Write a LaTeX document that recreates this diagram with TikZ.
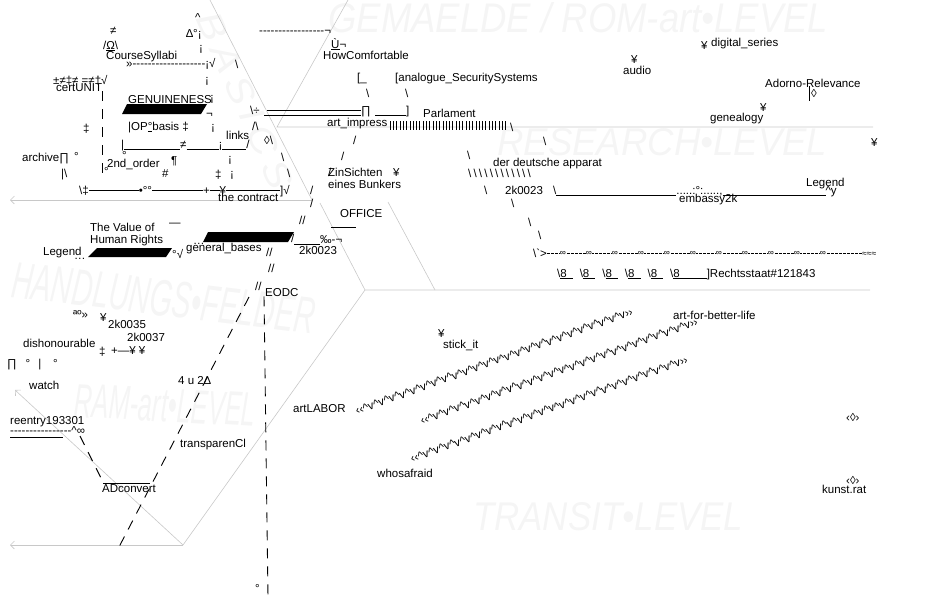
\documentclass[tikz,border=0pt]{standalone}
\usepackage{fontspec}
\newfontfamily\asc{Liberation Sans}
\usetikzlibrary{arrows.meta}
\definecolor{rim}{HTML}{C8C8C8}
\definecolor{faint}{HTML}{F5F5F5}
\newcommand\bsl{\textbackslash}
\newcommand\us[1]{\rule[-1.8pt]{#1}{0.7pt}}
\newcommand\ms[1]{\rule[3pt]{#1}{0.7pt}}
\newcommand\hv{\textasciicircum v}
\newcommand\ei{\bsl\underline{8\hspace{6pt}}\hspace{7pt}}
\begin{document}
\begin{tikzpicture}[x=1pt,y=-1pt,
  txt/.style={font=\asc\fontsize{11.5}{12}\selectfont,inner sep=0pt,anchor=base west},
  small/.style={txt,font=\asc\fontsize{8.5}{9}\selectfont},
  level/.style={font=\asc\itshape,text=faint,inner sep=0pt,anchor=base west},
  rimline/.style={draw=rim,line width=0.6pt},
  rimarrow/.style={rimline,-{Straight Barb[length=4pt,width=8pt]}},
  dashrun/.style={line width=0.9pt,dash pattern=on 10pt off 8pt},
  bar/.style={fill=black}
]
\useasboundingbox (0,0) rectangle (950,600);

% level marks
\node[level] (gem) at (328,32) {\resizebox{500pt}{30pt}{GEMAELDE / ROM-art•LEVEL}};
\node[level] (research) at (497,155) {\resizebox{330pt}{27pt}{RESEARCH•LEVEL}};
\node[level,rotate=-7] (handlung) at (10,297) {\resizebox{305pt}{36pt}{HANDLUNGS•FELDER}};
\node[level,rotate=-3] (ram) at (73,417) {\resizebox{182pt}{33pt}{RAM-art•LEVEL}};
\node[level] (transit) at (473,530) {\resizebox{270pt}{28pt}{TRANSIT•LEVEL}};
\node[level,rotate=-66] (basics) at (195,18) {\resizebox{190pt}{25pt}{B\,A\,S\,I\,C\,S}};

% frame
\coordinate (b0) at (210,0);
\coordinate (b1) at (312,200);
\coordinate (bl) at (10,200);
\coordinate (g0) at (348,0);
\coordinate (g1) at (277,127);
\coordinate (g2) at (873,127);
\coordinate (o0) at (320,203);
\coordinate (o1) at (388,202);
\coordinate (h0) at (365,290);
\coordinate (h1) at (435,290);
\coordinate (h2) at (870,290);
\coordinate (v0) at (183,545);
\coordinate (vl) at (10,545);
\coordinate (vu) at (15,390);
\draw[rimline] (b0) -- (b1);
\draw[rimarrow] (b1) -- (bl);
\draw[rimline] (g0) -- (g1) -- (g2);
\draw[rimline] (o0) -- (h0) -- (h2);
\draw[rimline] (o1) -- (h1);
\draw[rimline] (h0) -- (v0);
\draw[rimarrow] (v0) -- (vl);
\draw[rimarrow] (v0) -- (vu);

% basis block
\node[txt] (ne) at (110,34) {≠};
\node[txt] (caret) at (195,21) {\textasciicircum};
\node[txt] (delta) at (186,37) {∆°¡};
\node[txt] (omega) at (103,49) {/\underline{Ω}\bsl};
\node[txt] (syllabi) at (106,59) {CourseSyllabi};
\node[txt] (sylrun) at (126,67) {»-------------------¡√};
\node[txt] (bs1) at (235,68) {\bsl};
\node[txt] (cert) at (53,84) {±≠‡≠ =≠†√};
\node[txt] (certunit) at (56,91) {certUNIT};
\coordinate (cu1) at (100,178);
\draw[dashrun] (certunit.south east) -- (certunit.south east |- cu1);
\node[txt] (genuine) at (128,103) {GENUINENESS};
\fill[bar] (127,104) -- (207,104) -- (201,114) -- (122,114) -- cycle;
\node[txt] (neg) at (206,117) {¬};
\node[txt] (ddag1) at (83,132) {‡};
\node[txt] (opbasis) at (128,130) {|OP\underline{°}basis ‡};
\node[txt] (peak) at (252,130) {/\bsl};
\node[txt] (links) at (226,139) {links};
\node[txt] (floor) at (121,148) {|\us{56pt}≠\us{32pt}¡\us{24pt}/};
\node[txt] (lozl) at (264,144) {◊\bsl};
\node[txt] (bs2) at (281,161) {\bsl};
\node[txt] (bs3) at (287,177) {\bsl};
\node[txt] (archive) at (22,161) {archive∏};
\node[txt] (deg1) at (74,160) {°};
\node[txt] (deg2) at (122,159) {°};
\node[txt] (order) at (107,167) {2nd\_order};
\node[txt] (pilcrow) at (171,164) {¶};
\node[txt] (vbs) at (61,177) {|\bsl};
\node[txt] (deg3) at (104,175) {°};
\node[txt] (hash) at (162,177) {\#};
\node[txt] (ddag2) at (215,178) {‡};
\node[txt] (contract) at (79,194) {\bsl‡\ms{50pt}•°°\ms{51pt}+\ms{10pt}¥\ms{54pt}]√};
\node[txt] (thecontract) at (218,201) {the contract};
\foreach \x/\y [count=\i] in {199/51,205/83,210/101,211/130,228/162,230/177}
  \node[txt] (inv-\i) at (\x,\y) {¡};

% impress / parlament
\node[txt] (toprun) at (259,34) {-----------------¬};
\node[txt] (ugrave) at (331,48) {\underline{Ù}¬};
\node[txt] (comfort) at (323,59) {HowComfortable};
\node[txt] (brk) at (357,81) {[\_};
\node[txt] (analogue) at (395,81) {[analogue\_SecuritySystems};
\node[txt] (bs4) at (366,97) {\bsl};
\node[txt] (bs5) at (405,97) {\bsl};
\node[txt] (divide) at (250,114) {\bsl÷};
\node[txt] (prod) at (361,114) {∏};
\draw[line width=0.7pt] (267,110.5) -- (361,110.5);
\draw[line width=0.7pt] (264,115) -- (361,115);
\node[txt] (brk2) at (375,114) {\us{31pt}]};
\node[txt] (parl) at (423,117) {Parlament};
\node[txt] (impress) at (327,126) {art\_impress};
\foreach \i in {0,...,35}
  \draw[line width=0.5pt] ({390+3.3*\i},121) -- ++(0,9);
\node[txt] (bs6) at (510,131) {\bsl};
\node[txt] (zin) at (328,176) {ZinSichten};
\node[txt] (bunker) at (328,188) {eines Bunkers};
\node[txt] (yen1) at (393,176) {¥};

% slash runs
\foreach \x/\y [count=\i] in {353/144,341/160,328/176,310/194,310/207,291/242}
  \node[txt] (sl-\i) at (\x,\y) {/};
\foreach \x/\y [count=\i] in {299/224,266/256,268/272,255/290}
  \node[txt] (dsl-\i) at (\x,\y) {//};
\coordinate (d1a) at (249,297);
\coordinate (d1b) at (119,547);
\draw[dashrun] (d1a) -- (d1b);

% office
\node[txt] (office) at (340,217) {OFFICE};
\node[txt] (offrule) at (331,226) {\us{25pt}};
\node[txt] (emdash) at (169,226) {—};
\node[txt] (value) at (90,231) {The Value of};
\node[txt] (rights) at (90,243) {Human Rights};
\node[txt] (legend1) at (43,255) {Legend};
\node[txt] (ell1) at (74,259) {…};
\fill[bar] (97,248) -- (172,248) -- (166,257) -- (88,257) -- cycle;
\node[txt] (degsqrt) at (172,258) {°√};
\node[txt] (ell2) at (193,244) {…};
\node[txt] (bases) at (186,251) {general\_bases};
\fill[bar] (208,232) -- (294,232) -- (288,242) -- (203,242) -- cycle;
\node[txt] (permil) at (294,243) {\us{26pt}‰-¬};
\node[txt] (k23b) at (299,254) {2k0023};
\node[txt] (eodc) at (265,296) {EODC};
\coordinate (e1) at (268,597);
\draw[dashrun] ([xshift=-1pt]eodc.south west) -- (e1);
\node[txt] (degbot) at (255,592) {°};

% handlungsfelder
\node[txt] (guill) at (73,318) {ªº»};
\node[txt] (yen7) at (100,321) {¥};
\node[txt] (k35) at (108,328) {2k0035};
\node[txt] (k37) at (127,341) {2k0037};
\node[txt] (dishon) at (23,347) {dishonourable};
\node[txt] (ddag3) at (99,355) {‡};
\node[txt] (plusyen) at (111,354) {+—¥ ¥};
\node[txt] (prodrow) at (7,367) {∏\hspace{9pt}°\hspace{8pt}|\hspace{12pt}°};
\node[txt] (watch) at (29,389) {watch};
\node[txt] (fouru) at (178,384) {4 u 2∆};
\node[txt] (reentry) at (10,424) {reentry193301};
\node[txt] (reerun) at (10,434) {----------------\textasciicircum∞};
\draw[line width=0.7pt] (10,437) -- (63,437);
\coordinate (d3a) at (80,436);
\coordinate (d3b) at (104,484);
\draw[dashrun] (d3a) -- (d3b);
\node[txt] (transp) at (180,447) {transparenCl};
\node[txt] (adconv) at (102,492) {ADconvert};
\draw[line width=0.7pt] ([shift={(1pt,1pt)}]adconv.north west) -- ([shift={(-6pt,1pt)}]adconv.north east);

% research level
\node[txt] (yen3) at (701,49) {¥};
\node[txt] (digital) at (711,46) {digital\_series};
\node[txt] (yen4) at (631,63) {¥};
\node[txt] (audio) at (623,74) {audio};
\node[txt] (adorno) at (765,87) {Adorno-Relevance};
\node[txt] (loz3) at (811,97) {◊};
\draw[line width=0.8pt] (809,86) -- (809,101);
\node[txt] (yen5) at (760,111) {¥};
\node[txt] (genea) at (710,121) {genealogy};
\node[txt] (yen6) at (871,146) {¥};
\node[txt] (bs7) at (543,145) {\bsl};
\node[txt] (bs8) at (467,159) {\bsl};
\node[txt] (apparat) at (493,166) {der deutsche apparat};
\node[txt] (bsrun) at (468,177) {\foreach\k in {1,...,12}{\bsl\kern2.2pt}};
\node[txt] (bs9) at (484,194) {\bsl};
\node[txt] (k23a) at (505,194) {2k0023};
\node[txt] (embassy) at (553,194) {\bsl\us{120pt}.....:°:.....,\us{103pt}\textasciicircum y};
\node[txt] (emb2k) at (679,202) {embassy2k};
\node[txt] (legend2) at (806,186) {Legend};
\foreach \x/\y [count=\i] in {511/207,528/226,538/239}
  \node[txt] (bsd-\i) at (\x,\y) {\bsl};
\node[txt] (arrow) at (533,257) {\bsl\textasciigrave>};
\coordinate (inf0) at (862,253);
\draw[line width=0.6pt,dash pattern=on 2.5pt off 1.5pt] (arrow.east |- inf0) -- (inf0);
\foreach \k in {0,...,10}
  \node[small,anchor=center,fill=white,inner sep=0.4pt] (inf-\k) at ({563+26*\k},253) {∞};
\node[small] (approx) at (862,256) {≈≈≈};
\node[txt] (rstaat) at (557,277) {\ei\ei\ei\ei\ei\bsl\underline{8\hspace{27pt}}]Rechtsstaat\#121843};

% transit level
\node[txt] (labor) at (293,412) {artLABOR};
\node[txt] (yen2) at (438,337) {¥};
\node[txt] (stick) at (443,348) {stick\_it};
\node[txt] (better) at (673,319) {art-for-better-life};
\node[txt] (afraid) at (377,477) {whosafraid};
\node[txt,rotate=19.9] (zz1) at (357,415) {‹‹\foreach\k in {1,...,25}{\hv}››};
\node[txt,rotate=19.9] (zz2) at (422,425) {‹‹\foreach\k in {1,...,25}{\hv}››};
\node[txt,rotate=19.9] (zz3) at (412,463) {‹‹\foreach\k in {1,...,25}{\hv}››};
\node[txt] (loz1) at (846,421) {‹◊›};
\node[txt] (loz2) at (846,484) {‹◊›};
\node[txt] (kunst) at (822,493) {kunst.rat};
\end{tikzpicture}
\end{document}
